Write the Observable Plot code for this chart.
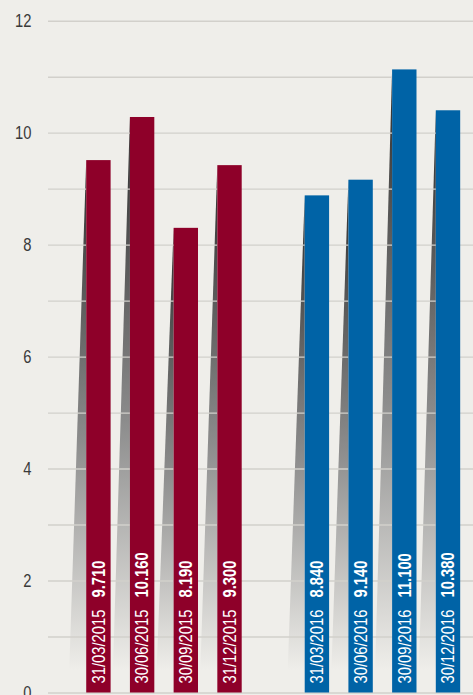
<!DOCTYPE html>
<html><head><meta charset="utf-8">
<script src="https://cdn.jsdelivr.net/npm/d3@7"></script>
<script src="https://cdn.jsdelivr.net/npm/@observablehq/plot@0.6"></script>
<style>
html,body{margin:0;padding:0;background:#efeeea;overflow:hidden;}
</style></head><body><div id="chart"></div>
<script>
// ---- data ----
const dates = ["31/03/2015","30/06/2015","30/09/2015","31/12/2015","31/03/2016","30/06/2016","30/09/2016","30/12/2016"];
const years = ["2015","2015","2015","2015","2016","2016","2016","2016"];
const labels = ["9.710","10.160","8.190","9.300","8.840","9.140","11.100","10.380"];
const heights = [9.51, 10.28, 8.30, 9.42, 8.88, 9.16, 11.13, 10.40];
const gapKey = " ";
const yTicks = [0,2,4,6,8,10,12];
const gridValues = [0,1,2,3,4,5,6,7,8,9,10,11,12];
const yearColors = {"2015":"#8e0029","2016":"#0063a6"};

const data = dates.map((d,i)=>({date:d, year:years[i], label:labels[i], h:heights[i]}));
const font = '"Liberation Sans", Arial, sans-serif';
const bg = "#efeeea";

const plot = Plot.plot({
  width:473, height:695,
  marginTop:20.7, marginBottom:2.5, marginLeft:48, marginRight:0,
  style:{background:bg, fontFamily:font, overflow:"hidden"},
  x:{domain:[...dates.slice(0,4), gapKey, ...dates.slice(4)], paddingInner:0.442, paddingOuter:0.584, align:0.749, round:false, axis:null},
  y:{domain:[0,12]},
  color:{domain:Object.keys(yearColors), range:Object.values(yearColors)},
  marks:[
    Plot.ruleY(gridValues,{stroke:"#d2d0cb", strokeWidth:1.4}),
    Plot.axisY(yTicks,{tickSize:0, tickPadding:17, fontSize:18, fill:"#3a3a3a", label:null, fontFamily:font, tickFormat:d => String(d)}),
    Plot.barY(data,{x:"date", y:"h", fill:"year"}),
    Plot.text(data,{x:"date", y:0, text:"date", rotate:-90, textAnchor:"start", dy:-9.5, fill:"white", fontSize:18, fontFamily:font}),
    Plot.text(data,{x:"date", y:0, text:"label", rotate:-90, textAnchor:"start", dy:-95.5, fill:"white", fontSize:18, fontWeight:"bold", fontFamily:font})
  ]
});
document.getElementById("chart").appendChild(plot);

const svgNode = plot.tagName.toLowerCase()==="svg" ? plot : plot.querySelector("svg");
const svg = d3.select(svgNode);

// condensed look: narrow each text to ~82% of its natural width
svg.selectAll("text").each(function(){
  const len = this.getComputedTextLength();
  if (len > 0) {
    this.setAttribute("textLength", (len*0.82).toFixed(2));
    this.setAttribute("lengthAdjust","spacingAndGlyphs");
  }
});

// ---- gradient shadows to the left of each bar, placed with the plot's scales ----
const xs = plot.scale("x"), ys = plot.scale("y");
const defs = svg.insert("defs", ":first-child");
const grad = defs.append("linearGradient").attr("id","shadowGrad").attr("x1",0).attr("y1",0).attr("x2",0).attr("y2",1);
grad.append("stop").attr("offset","0%").attr("stop-color","#2c2c2c");
grad.append("stop").attr("offset","55%").attr("stop-color","#8c8c8c");
grad.append("stop").attr("offset","100%").attr("stop-color",bg);
const firstG = svg.select("g").node();
const sh = svg.insert("g", () => firstG).attr("aria-label","shadows");
const y0 = ys.apply(0);
data.forEach(d => {
  const L = xs.apply(d.date);
  const top = ys.apply(d.h);
  const bottom = y0 - 22;
  sh.append("polygon")
    .attr("points", `${L},${top} ${L},${bottom} ${L-17},${bottom}`)
    .attr("fill","url(#shadowGrad)");
});
</script></body></html>
